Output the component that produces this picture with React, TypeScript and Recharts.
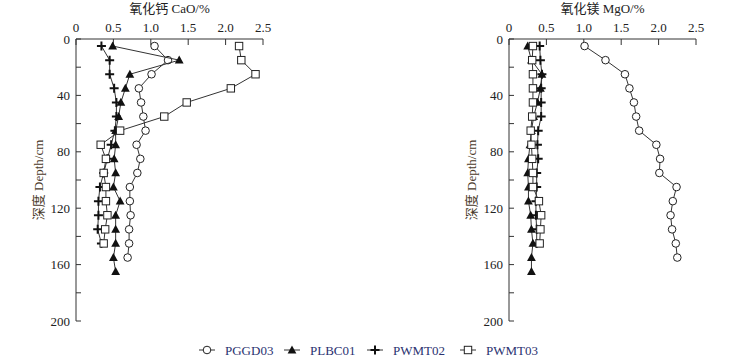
import { ScatterChart, Scatter, XAxis, YAxis } from "recharts";

const depths = [5, 15, 25, 35, 45, 55, 65, 75, 85, 95, 105, 115, 125, 135, 145, 155, 165];
const depthTicks = [0, 20, 40, 60, 80, 100, 120, 140, 160, 180, 200];
const valueTicks = [0, 0.5, 1, 1.5, 2, 2.5];

// 氧化钙 CaO/%
const caoPGGD03 = [1.05, 1.23, 1.01, 0.84, 0.87, 0.9, 0.93, 0.81, 0.86, 0.82, 0.72, 0.72, 0.73, 0.71, 0.71, 0.69];
const caoPLBC01 = [0.49, 1.38, 0.72, 0.66, 0.6, 0.57, 0.53, 0.53, 0.51, 0.53, 0.5, 0.59, 0.53, 0.53, 0.53, 0.5, 0.53];
const caoPWMT02 = [0.34, 0.45, 0.45, 0.51, 0.54, 0.54, 0.52, 0.47, 0.42, 0.37, 0.32, 0.3, 0.3, 0.29, 0.34];
const caoPWMT03 = [2.18, 2.21, 2.4, 2.07, 1.48, 1.18, 0.59, 0.33, 0.4, 0.37, 0.4, 0.4, 0.42, 0.39, 0.37];

// 氧化镁 MgO/%
const mgoPGGD03 = [1.01, 1.29, 1.55, 1.61, 1.67, 1.7, 1.74, 1.97, 2.02, 2.01, 2.24, 2.19, 2.16, 2.18, 2.23, 2.25];
const mgoPLBC01 = [0.25, 0.3, 0.44, 0.42, 0.38, 0.33, 0.3, 0.28, 0.26, 0.25, 0.26, 0.26, 0.29, 0.3, 0.32, 0.3, 0.3];
const mgoPWMT02 = [0.41, 0.42, 0.44, 0.43, 0.43, 0.43, 0.39, 0.38, 0.39, 0.37, 0.37, 0.36, 0.36, 0.37, 0.37];
const mgoPWMT03 = [0.32, 0.31, 0.32, 0.32, 0.32, 0.31, 0.29, 0.3, 0.31, 0.32, 0.32, 0.4, 0.43, 0.42, 0.41];

const seriesNames = ["PGGD03", "PLBC01", "PWMT02", "PWMT03"];

const FONT = "'Liberation Serif', 'Noto Sans CJK SC', serif";
const INK = "#222";

const toPoints = (vals: number[]) => vals.map((v, i) => ({ value: v, depth: depths[i] }));

const CircleMark = ({ cx, cy }: any) => (
  <circle cx={cx} cy={cy} r={3.8} fill="#fff" stroke={INK} strokeWidth={1} />
);
const TriangleMark = ({ cx, cy }: any) => (
  <path d={`M${cx},${cy - 4.6}L${cx + 4.4},${cy + 3.4}L${cx - 4.4},${cy + 3.4}Z`} fill="#111" />
);
const CrossMark = ({ cx, cy }: any) => (
  <path d={`M${cx - 4.5},${cy}H${cx + 4.5}M${cx},${cy - 4.5}V${cy + 4.5}`} stroke="#111" strokeWidth={2} />
);
const SquareMark = ({ cx, cy }: any) => (
  <rect x={cx - 3.7} y={cy - 3.7} width={7.4} height={7.4} fill="#fff" stroke={INK} strokeWidth={1} />
);

const marks = [CircleMark, TriangleMark, CrossMark, SquareMark];

function Profile({ title, series }: { title: string; series: number[][] }) {
  return (
    <ScatterChart width={290} height={330} margin={{ top: 0, right: 27, bottom: 9, left: 0 }}>
      <XAxis
        type="number"
        dataKey="value"
        orientation="top"
        domain={[0, 2.5]}
        ticks={valueTicks}
        tickFormatter={(v: number) => (v === 0 ? "0" : v.toFixed(1))}
        height={39}
        tickSize={-6}
        tickMargin={13}
        stroke="#333"
        tick={{ fill: INK, fontSize: 13, fontFamily: FONT }}
        label={{ value: title, position: "insideTop", offset: 4, fill: INK, fontSize: 13, fontFamily: FONT }}
      />
      <YAxis
        type="number"
        dataKey="depth"
        reversed
        domain={[0, 200]}
        ticks={depthTicks}
        tickFormatter={(v: number) => (v % 40 === 0 ? String(v) : "")}
        width={76}
        tickSize={-5}
        tickMargin={11}
        stroke="#333"
        tick={{ fill: INK, fontSize: 13, fontFamily: FONT }}
        label={{ value: "深度 Depth/cm", angle: -90, position: "center", fill: "#4a3a2a", fontSize: 13, fontFamily: FONT }}
      />
      {series.map((vals, i) => {
        const Mark = marks[i];
        return (
          <Scatter
            key={seriesNames[i]}
            name={seriesNames[i]}
            data={toPoints(vals)}
            line={{ stroke: "#333", strokeWidth: 1 }}
            lineType="joint"
            shape={(p: any) => <Mark cx={p.cx} cy={p.cy} />}
            isAnimationActive={false}
          />
        );
      })}
    </ScatterChart>
  );
}

function Legend() {
  const iconX = [207, 292, 375, 468];
  return (
    <svg width={756} height={24} style={{ position: "absolute", left: 0, top: 338 }}>
      {seriesNames.map((name, i) => {
        const Mark = marks[i];
        return (
          <g key={name}>
            <line x1={iconX[i] - 8} x2={iconX[i] + 8} y1={12} y2={12} stroke="#333" strokeWidth={1} />
            <Mark cx={iconX[i]} cy={12} />
            <text x={iconX[i] + 18} y={16.5} fill="#2b3270" fontSize={13} fontFamily={FONT}>
              {name}
            </text>
          </g>
        );
      })}
    </svg>
  );
}

export default function App() {
  return (
    <div style={{ position: "absolute", left: 0, top: 0, width: 756, height: 360, background: "#fff", fontFamily: FONT }}>
      <div style={{ position: "absolute", left: 0, top: 0 }}>
        <Profile title="氧化钙 CaO/%" series={[caoPGGD03, caoPLBC01, caoPWMT02, caoPWMT03]} />
      </div>
      <div style={{ position: "absolute", left: 433, top: 0 }}>
        <Profile title="氧化镁 MgO/%" series={[mgoPGGD03, mgoPLBC01, mgoPWMT02, mgoPWMT03]} />
      </div>
      <Legend />
    </div>
  );
}
